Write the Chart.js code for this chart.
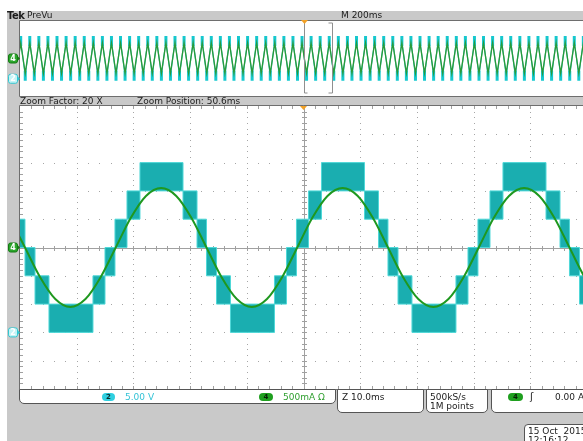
<!DOCTYPE html>
<html><head><meta charset="utf-8">
<script src="https://cdn.jsdelivr.net/npm/chart.js@4.4.0/dist/chart.umd.min.js"></script>
<style>
html,body{margin:0;padding:0;width:583px;height:441px;overflow:hidden;background:#fff;position:relative;}
#frame{position:absolute;left:7px;top:11px;width:600px;height:440px;background:#c9c9c9;}
.t{position:absolute;font-family:"DejaVu Sans",sans-serif;font-size:9px;color:#1c1c1c;white-space:nowrap;line-height:9px;z-index:2;}
.box{position:absolute;background:#fff;border:1px solid #555;border-radius:0 0 5px 5px;box-sizing:border-box;}
.bdg{position:absolute;height:8px;border-radius:4px;font-family:"DejaVu Sans",sans-serif;font-size:7px;font-weight:bold;line-height:8px;text-align:center;color:#0a2a2a;}
canvas{position:absolute;}
</style></head><body>
<div id="frame"></div>

<canvas id="prev" width="580" height="77" style="left:7px;top:20px;"></canvas>
<canvas id="main" width="580" height="285" style="left:7px;top:105px;"></canvas>

<div class="t" style="left:7px;top:11px;font-size:10px;line-height:10px;font-weight:bold;letter-spacing:-0.5px;">Tek</div>
<div class="t" style="left:27px;top:11px;">PreVu</div>
<div class="t" style="left:341px;top:11px;">M 200ms</div>
<div class="t" style="left:20px;top:97px;">Zoom Factor: 20 X</div>
<div class="t" style="left:137px;top:97px;">Zoom Position: 50.6ms</div>

<div class="box" style="left:19px;top:389px;width:317px;height:15px;"></div>
<div class="bdg" style="left:102px;top:393px;width:13px;background:#2fcfe0;">2</div>
<div class="t" style="left:125px;top:393px;color:#35c3d6;">5.00 V</div>
<div class="bdg" style="left:259px;top:393px;width:14px;background:#1f9f1f;color:#062006;">4</div>
<div class="t" style="left:283px;top:393px;color:#2f9f2f;">500mA Ω</div>

<div class="box" style="left:337px;top:389px;width:87px;height:24px;"></div>
<div class="t" style="left:342px;top:393px;">Z 10.0ms</div>
<div class="box" style="left:426px;top:389px;width:62px;height:24px;"></div>
<div class="t" style="left:430px;top:393px;">500kS/s</div>
<div class="t" style="left:430px;top:402px;">1M points</div>
<div class="box" style="left:491px;top:389px;width:110px;height:24px;"></div>
<div class="bdg" style="left:508px;top:393px;width:15px;background:#1f9f1f;color:#062006;">4</div>
<div class="t" style="left:530px;top:392px;font-size:10px;">ʃ</div>
<div class="t" style="left:555px;top:393px;">0.00 A</div>

<div class="box" style="left:524px;top:424px;width:80px;height:30px;border-radius:4px;"></div>
<div class="t" style="left:528px;top:427px;">15 Oct&nbsp; 2015</div>
<div class="t" style="left:528px;top:436px;">12:16:12</div>

<script>
// ---------- main (zoomed) window: x in ms, y in divisions ----------
const greenT = [-1.79,0.88,3.55,6.22,8.88,11.55,14.22,16.89,19.55,22.22,24.89,27.56,30.22,
  32.89,35.56,38.23,40.89,43.56,46.23,48.90,51.56,54.23,56.90,59.57,62.23,
  64.90,67.57,70.24,72.90,75.57,78.24,80.91,83.57,86.24,88.91,91.58,94.24,
  96.91,99.58,102.25];
const greenV = [1.05,
  0,-1.05,-1.82,-2.1,-1.82,-1.05,0,1.05,1.82,2.1,1.82,1.05,
  0,-1.05,-1.82,-2.1,-1.82,-1.05,0,1.05,1.82,2.1,1.82,1.05,
  0,-1.05,-1.82,-2.1,-1.82,-1.05,0,1.05,1.82,2.1,1.82,1.05,
  0,-1.05,-1.82];
const stepT = [0,
  0.88,2.65,5.11,12.87,14.99,16.75,18.87,21.16,28.75,31.22,
  32.89,34.66,37.12,44.88,47.00,48.76,50.88,53.17,60.76,63.23,
  64.90,66.67,69.13,76.89,79.01,80.77,82.89,85.18,92.77,95.24,
  96.91,98.68,100];
const stepLo = [0,
  -1,-2,-3,-2,-1,0,1,2,1,0,
  -1,-2,-3,-2,-1,0,1,2,1,0,
  -1,-2,-3,-2,-1,0,1,2,1,0,
  -1,-2,-2];
const stepHi = [1,
  0,-1,-2,-1,0,1,2,3,2,1,
  0,-1,-2,-1,0,1,2,3,2,1,
  0,-1,-2,-1,0,1,2,3,2,1,
  0,-1,-1];
const mainRange = [0, 100];
const divRange = [-5, 5];
const trigTime = 50;
const ch4Ground = 0, ch2Ground = -3;

// ---------- preview window: x in ms ----------
const prevT = [-13.5,
  2.5,18.5, 34.5,50.5, 66.5,82.5, 98.5,114.5, 130.5,146.5, 162.6,178.6, 194.6,210.6, 226.6,242.6, 258.6,274.6, 290.6,306.6,
  322.6,338.6, 354.6,370.6, 386.6,402.6, 418.6,434.6, 450.6,466.6, 482.7,498.7, 514.7,530.7, 546.7,562.7, 578.7,594.7, 610.7,626.7,
  642.7,658.7, 674.7,690.7, 706.7,722.7, 738.7,754.7, 770.7,786.7, 802.8,818.8, 834.8,850.8, 866.8,882.8, 898.8,914.8, 930.8,946.8,
  962.8,978.8, 994.8,1010.8, 1026.8,1042.8, 1058.8,1074.8, 1090.8,1106.8, 1122.9,1138.9, 1154.9,1170.9, 1186.9,1202.9, 1218.9,1234.9, 1250.9,1266.9,
  1282.9,1298.9, 1314.9,1330.9, 1346.9,1362.9, 1378.9,1394.9, 1410.9,1426.9, 1443.0,1459.0, 1475.0,1491.0, 1507.0,1523.0, 1539.0,1555.0, 1571.0,1587.0,
  1603.0,1619.0, 1635.0,1651.0, 1667.0,1683.0, 1699.0,1715.0, 1731.0,1747.0, 1763.1,1779.1, 1795.1,1811.1, 1827.1,1843.1, 1859.1,1875.1, 1891.1,1907.1,
  1923.1,1939.1, 1955.1,1971.1, 1987.1,2003.1];
const prevCyan = [-2.3,
  2.33,-2.3, 2.33,-2.3, 2.33,-2.3, 2.33,-2.3, 2.33,-2.3, 2.33,-2.3, 2.33,-2.3, 2.33,-2.3, 2.33,-2.3, 2.33,-2.3,
  2.33,-2.3, 2.33,-2.3, 2.33,-2.3, 2.33,-2.3, 2.33,-2.3, 2.33,-2.3, 2.33,-2.3, 2.33,-2.3, 2.33,-2.3, 2.33,-2.3,
  2.33,-2.3, 2.33,-2.3, 2.33,-2.3, 2.33,-2.3, 2.33,-2.3, 2.33,-2.3, 2.33,-2.3, 2.33,-2.3, 2.33,-2.3, 2.33,-2.3,
  2.33,-2.3, 2.33,-2.3, 2.33,-2.3, 2.33,-2.3, 2.33,-2.3, 2.33,-2.3, 2.33,-2.3, 2.33,-2.3, 2.33,-2.3, 2.33,-2.3,
  2.33,-2.3, 2.33,-2.3, 2.33,-2.3, 2.33,-2.3, 2.33,-2.3, 2.33,-2.3, 2.33,-2.3, 2.33,-2.3, 2.33,-2.3, 2.33,-2.3,
  2.33,-2.3, 2.33,-2.3, 2.33,-2.3, 2.33,-2.3, 2.33,-2.3, 2.33,-2.3, 2.33,-2.3, 2.33,-2.3, 2.33,-2.3, 2.33,-2.3,
  2.33,-2.3, 2.33,-2.3, 2.33,-2.3];
const prevGreen = [-1.95,
  2.05,-1.95, 2.05,-1.95, 2.05,-1.95, 2.05,-1.95, 2.05,-1.95, 2.05,-1.95, 2.05,-1.95, 2.05,-1.95, 2.05,-1.95, 2.05,-1.95,
  2.05,-1.95, 2.05,-1.95, 2.05,-1.95, 2.05,-1.95, 2.05,-1.95, 2.05,-1.95, 2.05,-1.95, 2.05,-1.95, 2.05,-1.95, 2.05,-1.95,
  2.05,-1.95, 2.05,-1.95, 2.05,-1.95, 2.05,-1.95, 2.05,-1.95, 2.05,-1.95, 2.05,-1.95, 2.05,-1.95, 2.05,-1.95, 2.05,-1.95,
  2.05,-1.95, 2.05,-1.95, 2.05,-1.95, 2.05,-1.95, 2.05,-1.95, 2.05,-1.95, 2.05,-1.95, 2.05,-1.95, 2.05,-1.95, 2.05,-1.95,
  2.05,-1.95, 2.05,-1.95, 2.05,-1.95, 2.05,-1.95, 2.05,-1.95, 2.05,-1.95, 2.05,-1.95, 2.05,-1.95, 2.05,-1.95, 2.05,-1.95,
  2.05,-1.95, 2.05,-1.95, 2.05,-1.95, 2.05,-1.95, 2.05,-1.95, 2.05,-1.95, 2.05,-1.95, 2.05,-1.95, 2.05,-1.95, 2.05,-1.95,
  2.05,-1.95, 2.05,-1.95, 2.05,-1.95];
const prevRange = [0, 2000];
const zoomWindow = [1000, 1100];
const prevCh2Ground = -2.7;

const zip = (xs, ys) => xs.map((x, i) => ({x, y: ys[i]}));

function badge(ctx, x, y, label, fill, stroke, txt) {
  ctx.save();
  ctx.beginPath();
  ctx.roundRect(x + 0.5, y - 4.5, 9, 9, 2);
  ctx.fillStyle = fill; ctx.fill();
  ctx.strokeStyle = stroke; ctx.lineWidth = 1; ctx.stroke();
  ctx.beginPath(); ctx.moveTo(x + 9.5, y - 2.5); ctx.lineTo(x + 12, y); ctx.lineTo(x + 9.5, y + 2.5); ctx.closePath();
  ctx.fillStyle = stroke; ctx.fill();
  ctx.fillStyle = txt; ctx.font = 'bold 8px "DejaVu Sans"'; ctx.textAlign = 'center'; ctx.textBaseline = 'middle';
  ctx.fillText(label, x + 5, y + 0.5);
  ctx.restore();
}

function trigMark(ctx, px, top) {
  ctx.save();
  ctx.fillStyle = '#f2a126';
  ctx.beginPath(); ctx.moveTo(px - 3.5, top); ctx.lineTo(px + 3.5, top); ctx.lineTo(px, top + 4); ctx.closePath(); ctx.fill();
  ctx.restore();
}

const mainPlugin = {
  id: 'scopeMain',
  beforeDraw(chart) {
    const {ctx, chartArea: a} = chart;
    ctx.save(); ctx.fillStyle = '#ffffff'; ctx.fillRect(a.left, a.top, a.right - a.left, a.bottom - a.top); ctx.restore();
  },
  beforeDatasetsDraw(chart) {
    const {ctx, chartArea: a, scales: {x, y}} = chart;
    ctx.save();
    ctx.fillStyle = '#a6a6a6';
    for (let d = 10; d < 100; d += 10) {
      if (d === 50) continue;
      const px = Math.round(x.getPixelForValue(d));
      for (let v = -4.8; v < 5; v += 0.2) ctx.fillRect(px, Math.round(y.getPixelForValue(v)), 1, 1);
    }
    for (let d = -4; d <= 4; d++) {
      if (d === 0) continue;
      const py = Math.round(y.getPixelForValue(d));
      for (let t = 2; t < 100; t += 2) ctx.fillRect(Math.round(x.getPixelForValue(t)), py, 1, 1);
    }
    ctx.fillStyle = '#a0a0a0';
    const cy = Math.round(y.getPixelForValue(0)), cx = Math.round(x.getPixelForValue(50));
    ctx.fillRect(a.left, cy, a.right - a.left, 1);
    ctx.fillRect(cx, a.top, 1, a.bottom - a.top);
    for (let t = 2; t < 100; t += 2) {
      const px = Math.round(x.getPixelForValue(t));
      ctx.fillRect(px, cy - 2, 1, 5);
      ctx.fillRect(px, a.top, 1, 3);
      ctx.fillRect(px, a.bottom - 3, 1, 3);
    }
    for (let v = -4.8; v < 5; v += 0.2) {
      const py = Math.round(y.getPixelForValue(v));
      ctx.fillRect(cx - 2, py, 5, 1);
      ctx.fillRect(a.left, py, 3, 1);
    }
    ctx.restore();
  },
  afterDraw(chart) {
    const {ctx, chartArea: a, scales: {x, y}} = chart;
    ctx.save();
    ctx.strokeStyle = '#6e6e6e'; ctx.lineWidth = 1;
    ctx.beginPath();
    ctx.moveTo(a.right + 5, a.top - 0.5); ctx.lineTo(a.left - 0.5, a.top - 0.5);
    ctx.lineTo(a.left - 0.5, a.bottom + 0.5); ctx.lineTo(a.right + 5, a.bottom + 0.5);
    ctx.stroke();
    ctx.restore();
    trigMark(ctx, x.getPixelForValue(trigTime), a.top);
    badge(ctx, a.left - 12, y.getPixelForValue(ch4Ground), '4', '#2aa52a', '#137a13', '#ffffff');
    badge(ctx, a.left - 12, y.getPixelForValue(ch2Ground), '2', '#c4f4f6', '#33c6d0', '#ffffff');
  }
};

const prevPlugin = {
  id: 'scopePrev',
  beforeDraw(chart) {
    const {ctx, chartArea: a} = chart;
    ctx.save(); ctx.fillStyle = '#ffffff'; ctx.fillRect(a.left, a.top, a.right - a.left, a.bottom - a.top); ctx.restore();
  },
  afterDraw(chart) {
    const {ctx, chartArea: a, scales: {x, y}} = chart;
    ctx.save();
    ctx.strokeStyle = '#6e6e6e'; ctx.lineWidth = 1;
    ctx.beginPath();
    ctx.moveTo(a.right + 5, a.top - 0.5); ctx.lineTo(a.left - 0.5, a.top - 0.5);
    ctx.lineTo(a.left - 0.5, a.bottom + 0.5); ctx.lineTo(a.right + 5, a.bottom + 0.5);
    ctx.stroke();
    const zl = Math.round(x.getPixelForValue(zoomWindow[0])) + 0.5;
    const zr = Math.round(x.getPixelForValue(zoomWindow[1])) + 0.5;
    ctx.strokeStyle = '#8f8f8f';
    ctx.beginPath();
    ctx.moveTo(zl, a.top + 1); ctx.lineTo(zl, a.bottom - 3); ctx.lineTo(zl + 3, a.bottom - 3);
    ctx.moveTo(zr - 4, a.top + 2); ctx.lineTo(zr, a.top + 2); ctx.lineTo(zr, a.bottom - 3); ctx.lineTo(zr - 4, a.bottom - 3);
    ctx.stroke();
    ctx.restore();
    trigMark(ctx, zl, a.top - 1);
    badge(ctx, a.left - 12, y.getPixelForValue(0), '4', '#2aa52a', '#137a13', '#ffffff');
    badge(ctx, a.left - 12, y.getPixelForValue(prevCh2Ground), '2', '#c4f4f6', '#33c6d0', '#ffffff');
  }
};

function baseOptions(xr) {
  return {
    responsive: false, animation: false, devicePixelRatio: 1, events: [],
    layout: {autoPadding: false, padding: {left: 13, top: 1, bottom: 1, right: 0}},
    plugins: {legend: {display: false}, tooltip: {enabled: false}},
    scales: {
      x: {type: 'linear', display: false, min: xr[0], max: xr[1]},
      y: {type: 'linear', display: false, min: divRange[0], max: divRange[1]}
    },
    elements: {point: {radius: 0}}
  };
}

new Chart(document.getElementById('main'), {
  type: 'line',
  data: {datasets: [
    {data: zip(greenT, greenV), borderColor: '#1f981f', borderWidth: 2, cubicInterpolationMode: 'monotone', pointRadius: 0, fill: false},
    {data: zip(stepT, stepHi), stepped: 'before', borderColor: '#4fd8d8', borderWidth: 1, pointRadius: 0, fill: false},
    {data: zip(stepT, stepLo), stepped: 'before', borderColor: '#4fd8d8', borderWidth: 1, pointRadius: 0, fill: '-1', backgroundColor: '#1aaeb0'}
  ]},
  options: baseOptions(mainRange),
  plugins: [mainPlugin]
});

new Chart(document.getElementById('prev'), {
  type: 'line',
  data: {datasets: [
    {data: zip(prevT, prevGreen), borderColor: '#2a9a38', borderWidth: 1.3, pointRadius: 0, tension: 0, fill: false},
    {data: zip(prevT, prevCyan), borderColor: '#34c4c8', borderWidth: 1.2, tension: 0, fill: false,
     pointStyle: 'line', pointRotation: 90, pointRadius: 5, pointBorderWidth: 3, pointBorderColor: '#16c8cf', pointBackgroundColor: '#16c8cf'}
  ]},
  options: baseOptions(prevRange),
  plugins: [prevPlugin]
});
</script>
</body></html>
